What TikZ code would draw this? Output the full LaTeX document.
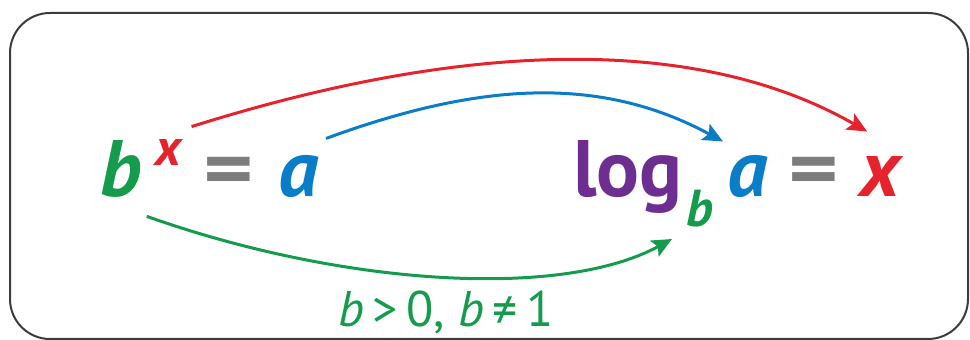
\documentclass[tikz,border=0pt]{standalone}
\usepackage{fontspec}
\setmainfont{PT Sans}
\usetikzlibrary{arrows.meta}
\definecolor{LogGreen}{RGB}{20,155,75}
\definecolor{LogRed}{RGB}{230,35,45}
\definecolor{LogBlue}{RGB}{10,125,200}
\definecolor{LogPurple}{RGB}{110,45,145}
\definecolor{LogGray}{RGB}{125,125,125}
\definecolor{FrameGray}{RGB}{60,60,60}

\begin{document}
\begin{tikzpicture}[x=0.5pt, y=-0.5pt, inner sep=0pt,
  big/.style={anchor=base west, font=\fontsize{40}{40}\selectfont\bfseries},
  small/.style={anchor=base west, font=\fontsize{26}{26}\selectfont\bfseries},
  link/.style={line width=1.5pt, -{Stealth[length=10pt,width=9pt,inset=2pt]}}]
  \useasboundingbox (0,0) rectangle (970,340);
  \draw[FrameGray, line width=1pt, rounded corners=20pt]
    (10,13) rectangle (968,339);

  % exponential form
  \node[big, LogGreen] (bb) at (100,197) {\itshape b};
  \node[small, LogRed] (xs) at (155,166) {\itshape x};
  \node[big, LogGray] (eqa) at (203,197) {\scalebox{1.2}[1]{=}};
  \node[big, LogBlue] (aa) at (278,197) {\itshape a};

  % logarithmic form
  \node[big, LogPurple] (log) at (573,197) {log};
  \node[small, LogGreen] (sb) at (686,227) {\itshape b};
  \node[big, LogBlue] (ab) at (727,197) {\itshape a};
  \node[big, LogGray] (eqb) at (788,197) {\scalebox{1.2}[1]{=}};
  \node[big, LogRed] (xb) at (860,197) {\itshape x};

  \node[anchor=base, LogGreen, font=\fontsize{25}{25}\selectfont]
    (cond) at (446,327) {\textit{b}\,>\,0, \textit{b}\,≠\,1};

  % arrows
  \draw[link, LogRed] ([shift={(5pt,6.5pt)}]xs.north east)
    .. controls (450,45) and (690,30) .. ([shift={(-6.5pt,12.5pt)}]xb.north);
  \draw[link, LogBlue] ([shift={(3.5pt,8.5pt)}]aa.north east)
    .. controls (480,82) and (600,75) .. ([shift={(-2pt,7pt)}]ab.north west);
  \draw[link, LogGreen] ([shift={(2.5pt,-9pt)}]bb.south east)
    .. controls (340,285) and (560,300) .. ([shift={(-7pt,-5.5pt)}]sb.south west);
\end{tikzpicture}
\end{document}
